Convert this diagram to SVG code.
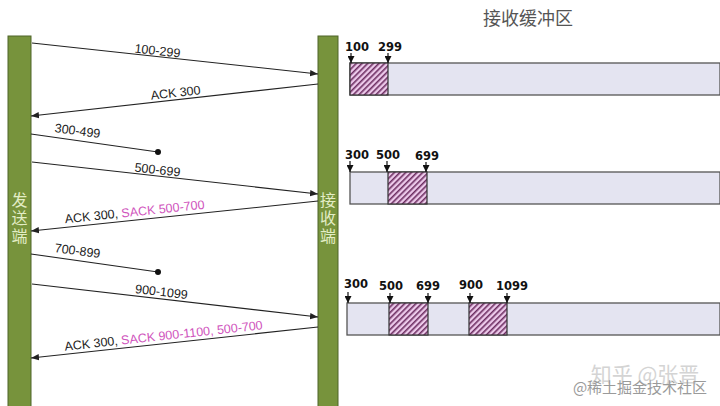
<svg xmlns="http://www.w3.org/2000/svg" width="720" height="406" viewBox="0 0 720 406">
<style>
.bar{fill:#77933c;stroke:#4f6428;stroke-width:1}
.bartxt{font-family:"Noto Sans CJK SC",sans-serif;font-size:16px;fill:#e3edc6;text-anchor:middle;writing-mode:vertical-rl;letter-spacing:2px}
.msg{stroke:#222;stroke-width:1.1;fill:none}
.lbl{font-family:"Liberation Sans",Arial,sans-serif;font-size:12.5px;fill:#222;text-anchor:middle}
.sack{fill:#d055bd}
.buf{fill:#e4e4f1;stroke:#555;stroke-width:1.3}
.hat{fill:url(#hatch);stroke:#333;stroke-width:1.2}
.num{font-family:"DejaVu Sans",Verdana,sans-serif;font-size:11.5px;font-weight:bold;fill:#111;text-anchor:middle}
.tick{stroke:#111;stroke-width:1.2;fill:none}
</style>
<defs>
<marker id="arr" viewBox="0 0 10 10" refX="10" refY="5" markerWidth="8" markerHeight="8" orient="auto" markerUnits="userSpaceOnUse">
<path d="M0,1 L10,5 L0,9 Z" fill="#222"/>
</marker>
<marker id="tarr" viewBox="0 0 10 10" refX="10" refY="5" markerWidth="7" markerHeight="7" orient="auto" markerUnits="userSpaceOnUse">
<path d="M0,0 L10,5 L0,10 Z" fill="#111"/>
</marker>
<pattern id="hatch" width="4" height="4" patternUnits="userSpaceOnUse" patternTransform="rotate(45)">
<rect width="4" height="4" fill="#ecc9ea"/>
<rect width="1.6" height="4" fill="#6e2f63"/>
</pattern>
</defs>
<rect width="720" height="406" fill="#ffffff"/>

<g id="sender">
<rect class="bar" x="8" y="36" width="23" height="372"/>
<text class="bartxt" x="19.5" y="219">发送端</text>
</g>
<g id="receiver">
<rect class="bar" x="318" y="36" width="20" height="372"/>
<text class="bartxt" x="328" y="219">接收端</text>
</g>

<g id="connectors">
<line class="msg" x1="32" y1="43" x2="318" y2="74" marker-end="url(#arr)"/>
<line class="msg" x1="318" y1="84" x2="31" y2="116" marker-end="url(#arr)"/>
<line class="msg" x1="31" y1="134" x2="158" y2="152"/>
<circle cx="158" cy="152" r="3" fill="#111"/>
<line class="msg" x1="32" y1="162" x2="318" y2="194" marker-end="url(#arr)"/>
<line class="msg" x1="318" y1="201" x2="31" y2="231" marker-end="url(#arr)"/>
<line class="msg" x1="31" y1="254" x2="158" y2="272"/>
<circle cx="158" cy="272" r="3" fill="#111"/>
<line class="msg" x1="32" y1="284" x2="318" y2="317" marker-end="url(#arr)"/>
<line class="msg" x1="318" y1="327" x2="31" y2="358" marker-end="url(#arr)"/>
</g>

<g id="labels">
<text class="lbl" x="157" y="55" transform="rotate(6.2 157 55)">100-299</text>
<text class="lbl" x="176" y="97" transform="rotate(-6.4 176 97)">ACK 300</text>
<text class="lbl" x="77" y="135" transform="rotate(7.5 77 135)">300-499</text>
<text class="lbl" x="157" y="174" transform="rotate(6.4 157 174)">500-699</text>
<text class="lbl" x="135" y="216" transform="rotate(-6 135 216)">ACK 300, <tspan class="sack">SACK 500-700</tspan></text>
<text class="lbl" x="77" y="255" transform="rotate(7.5 77 255)">700-899</text>
<text class="lbl" x="161" y="296" transform="rotate(6.6 161 296)">900-1099</text>
<text class="lbl" x="164" y="340" transform="rotate(-6.2 164 340)">ACK 300, <tspan class="sack">SACK 900-1100, 500-700</tspan></text>
</g>

<g id="buffer-title">
<text x="528" y="25" font-family="Noto Sans CJK SC,sans-serif" font-size="18" fill="#555" text-anchor="middle">接收缓冲区</text>
</g>

<g id="buffer1">
<rect class="buf" x="350" y="63" width="370" height="32"/>
<rect class="hat" x="350" y="63" width="38" height="32"/>
<text class="num" x="357" y="51">100</text>
<text class="num" x="390" y="51">299</text>
<line class="tick" x1="351" y1="53" x2="351" y2="63" marker-end="url(#tarr)"/>
<line class="tick" x1="388" y1="53" x2="388" y2="63" marker-end="url(#tarr)"/>
</g>

<g id="buffer2">
<rect class="buf" x="350" y="172" width="370" height="32"/>
<rect class="hat" x="388" y="172" width="39" height="32"/>
<text class="num" x="357" y="159">300</text>
<text class="num" x="388" y="159">500</text>
<text class="num" x="427" y="160">699</text>
<line class="tick" x1="350" y1="161" x2="350" y2="172" marker-end="url(#tarr)"/>
<line class="tick" x1="387" y1="161" x2="387" y2="172" marker-end="url(#tarr)"/>
<line class="tick" x1="426" y1="162" x2="426" y2="172" marker-end="url(#tarr)"/>
</g>

<g id="buffer3">
<rect class="buf" x="347" y="303" width="373" height="32"/>
<rect class="hat" x="389" y="303" width="39" height="32"/>
<rect class="hat" x="469" y="303" width="38" height="32"/>
<text class="num" x="356" y="288">300</text>
<text class="num" x="391" y="290">500</text>
<text class="num" x="428" y="290">699</text>
<text class="num" x="471" y="289">900</text>
<text class="num" x="512" y="290">1099</text>
<line class="tick" x1="348" y1="292" x2="348" y2="303" marker-end="url(#tarr)"/>
<line class="tick" x1="390" y1="293" x2="390" y2="303" marker-end="url(#tarr)"/>
<line class="tick" x1="428" y1="293" x2="428" y2="303" marker-end="url(#tarr)"/>
<line class="tick" x1="470" y1="293" x2="470" y2="303" marker-end="url(#tarr)"/>
<line class="tick" x1="507" y1="293" x2="507" y2="303" marker-end="url(#tarr)"/>
</g>

<g id="watermark">
<text x="645" y="382" font-family="Noto Sans CJK SC,sans-serif" font-size="21" fill="#d4d4d4" text-anchor="middle">知乎 @张晋</text>
<text x="640" y="393" font-family="Noto Sans CJK SC,sans-serif" font-size="15" fill="#9a9a9a" text-anchor="middle">@稀土掘金技术社区</text>
</g>
</svg>
